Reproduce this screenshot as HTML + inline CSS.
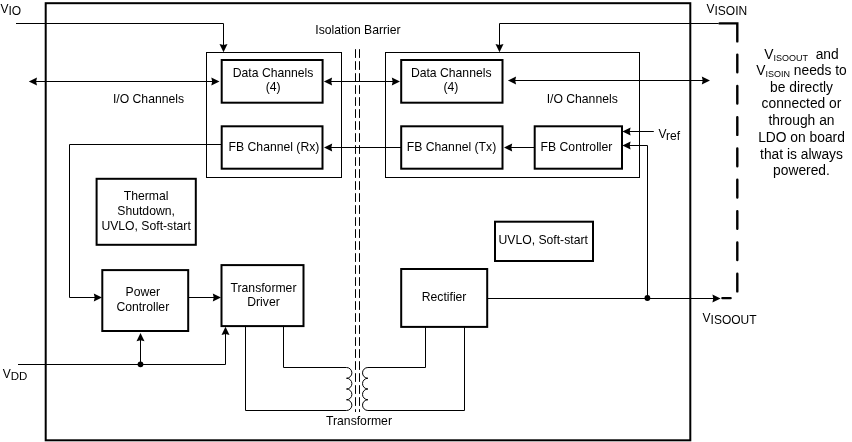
<!DOCTYPE html>
<html><head><meta charset="utf-8"><style>
html,body{margin:0;padding:0;background:#fff;width:852px;height:442px;overflow:hidden}
svg{display:block;will-change:transform}
text{font-family:"Liberation Sans",sans-serif;fill:#000}
</style></head><body>
<svg width="852" height="442" viewBox="0 0 852 442">
<rect x="45.7" y="3.2" width="644.60" height="437.10" fill="none" stroke="#000" stroke-width="2.0"/>
<text x="0.5" y="13" font-size="12" text-anchor="start">V<tspan font-size="12" dy="2.0">IO</tspan></text>
<path d="M16,23.5 H223.5 V46" fill="none" stroke="#000" stroke-width="1.0"/>
<polygon points="223.50,52.20 219.50,44.00 223.50,44.90 227.50,44.00" fill="#000"/>
<rect x="206.5" y="52.5" width="135.00" height="125.00" fill="none" stroke="#000" stroke-width="1.0"/>
<rect x="385.5" y="52.5" width="254.00" height="125.00" fill="none" stroke="#000" stroke-width="1.0"/>
<rect x="221.7" y="60.0" width="100.90" height="42.70" fill="none" stroke="#000" stroke-width="2.0"/>
<rect x="401.2" y="60.0" width="101.30" height="42.70" fill="none" stroke="#000" stroke-width="2.0"/>
<text x="273.1" y="76.7" font-size="12.2" text-anchor="middle">Data Channels</text>
<text x="273.2" y="91.2" font-size="12.2" text-anchor="middle">(4)</text>
<text x="451.2" y="76.7" font-size="12.2" text-anchor="middle">Data Channels</text>
<text x="450.9" y="91.2" font-size="12.2" text-anchor="middle">(4)</text>
<rect x="221.7" y="126.3" width="100.80" height="42.40" fill="none" stroke="#000" stroke-width="2.0"/>
<rect x="401.2" y="126.3" width="101.30" height="42.40" fill="none" stroke="#000" stroke-width="2.0"/>
<rect x="534.7" y="126.3" width="87.30" height="42.40" fill="none" stroke="#000" stroke-width="2.0"/>
<text x="274.0" y="151.0" font-size="12.2" text-anchor="middle">FB Channel (Rx)</text>
<text x="451.5" y="151.0" font-size="12.2" text-anchor="middle">FB Channel (Tx)</text>
<text x="576.5" y="151.4" font-size="12.2" text-anchor="middle">FB Controller</text>
<path d="M355.5,49.2 V412 M359.5,49.2 V412" fill="none" stroke="#000" stroke-width="1" stroke-dasharray="8.7 3.3"/>
<text x="358" y="33.6" font-size="12.2" text-anchor="middle">Isolation Barrier</text>
<path d="M34,81.5 H214" fill="none" stroke="#000" stroke-width="1.0"/>
<polygon points="28.80,81.50 37.00,77.50 36.10,81.50 37.00,85.50" fill="#000"/>
<polygon points="219.50,81.50 211.30,77.50 212.20,81.50 211.30,85.50" fill="#000"/>
<path d="M329,81.5 H395" fill="none" stroke="#000" stroke-width="1.0"/>
<polygon points="323.90,81.50 332.10,77.50 331.20,81.50 332.10,85.50" fill="#000"/>
<polygon points="400.00,81.50 391.80,77.50 392.70,81.50 391.80,85.50" fill="#000"/>
<path d="M513,80.5 H705" fill="none" stroke="#000" stroke-width="1.0"/>
<polygon points="507.90,80.50 516.10,76.50 515.20,80.50 516.10,84.50" fill="#000"/>
<polygon points="710.00,80.50 701.80,76.50 702.70,80.50 701.80,84.50" fill="#000"/>
<text x="148.5" y="102.5" font-size="12.2" text-anchor="middle">I/O Channels</text>
<text x="582.2" y="102.5" font-size="12.2" text-anchor="middle">I/O Channels</text>
<path d="M718.6,23.5 H499.5 V46" fill="none" stroke="#000" stroke-width="1.0"/>
<polygon points="499.50,52.20 495.50,44.00 499.50,44.90 503.50,44.00" fill="#000"/>
<text x="706.5" y="12.7" font-size="12" text-anchor="start">V<tspan font-size="12" dy="2.0">ISOIN</tspan></text>
<path d="M719.6,23.4 H737.3 V41.4" fill="none" stroke="#000" stroke-width="2.4" stroke-linecap="round"/>
<path d="M737.3,54.6 V292" fill="none" stroke="#000" stroke-width="2.4" stroke-linecap="round" stroke-dasharray="17.7 13.6"/>
<path d="M722.4,298.1 H730.6" fill="none" stroke="#000" stroke-width="2.4" stroke-linecap="round"/>
<path d="M653.8,131.5 H628" fill="none" stroke="#000" stroke-width="1.0"/>
<polygon points="622.40,131.50 630.60,127.50 629.70,131.50 630.60,135.50" fill="#000"/>
<text x="658.5" y="137.6" font-size="12" text-anchor="start">V<tspan font-size="12" dy="2.0">ref</tspan></text>
<path d="M647.5,298.5 V145.5 H628" fill="none" stroke="#000" stroke-width="1.0"/>
<polygon points="622.40,145.50 630.60,141.50 629.70,145.50 630.60,149.50" fill="#000"/>
<circle cx="647.4" cy="298" r="2.9" fill="#000"/>
<path d="M534.7,147.5 H510" fill="none" stroke="#000" stroke-width="1.0"/>
<polygon points="504.00,147.50 512.20,143.50 511.30,147.50 512.20,151.50" fill="#000"/>
<path d="M401.2,147.5 H330" fill="none" stroke="#000" stroke-width="1.0"/>
<polygon points="324.00,147.50 332.20,143.50 331.30,147.50 332.20,151.50" fill="#000"/>
<path d="M221.7,144.5 H69.5 V297.5 H96" fill="none" stroke="#000" stroke-width="1.0"/>
<polygon points="102.00,297.50 93.80,293.50 94.70,297.50 93.80,301.50" fill="#000"/>
<rect x="96.6" y="178.8" width="99.20" height="66.00" fill="none" stroke="#000" stroke-width="2.0"/>
<text x="146.1" y="200" font-size="12.2" text-anchor="middle">Thermal</text>
<text x="146.1" y="215" font-size="12.2" text-anchor="middle">Shutdown,</text>
<text x="146.1" y="230" font-size="12.2" text-anchor="middle">UVLO, Soft-start</text>
<rect x="102.3" y="270.1" width="85.90" height="60.90" fill="none" stroke="#000" stroke-width="2.0"/>
<text x="142.8" y="295.7" font-size="12.2" text-anchor="middle">Power</text>
<text x="142.8" y="310.5" font-size="12.2" text-anchor="middle">Controller</text>
<path d="M188.2,297.5 H215" fill="none" stroke="#000" stroke-width="1.0"/>
<polygon points="221.00,297.50 212.80,293.50 213.70,297.50 212.80,301.50" fill="#000"/>
<rect x="221.5" y="265.1" width="82.00" height="61.00" fill="none" stroke="#000" stroke-width="2.0"/>
<text x="263.5" y="292.1" font-size="12.2" text-anchor="middle">Transformer</text>
<text x="263.5" y="306.1" font-size="12.2" text-anchor="middle">Driver</text>
<text x="2.7" y="378" font-size="12">V<tspan font-size="11.5" dy="1.6">DD</tspan></text>
<path d="M18,364.5 H225.5 V333" fill="none" stroke="#000" stroke-width="1.0"/>
<polygon points="225.50,326.80 221.50,335.00 225.50,334.10 229.50,335.00" fill="#000"/>
<path d="M140.5,364.5 V339" fill="none" stroke="#000" stroke-width="1.0"/>
<polygon points="140.50,333.00 136.50,341.20 140.50,340.30 144.50,341.20" fill="#000"/>
<circle cx="140.5" cy="364.3" r="2.9" fill="#000"/>
<rect x="401.2" y="269.0" width="86.00" height="57.90" fill="none" stroke="#000" stroke-width="2.0"/>
<text x="444.1" y="301.1" font-size="12.2" text-anchor="middle">Rectifier</text>
<path d="M487,298.5 H714" fill="none" stroke="#000" stroke-width="1.0"/>
<polygon points="720.60,298.50 712.40,294.50 713.30,298.50 712.40,302.50" fill="#000"/>
<text x="702.6" y="321.6" font-size="12" text-anchor="start">V<tspan font-size="12" dy="2.0">ISOOUT</tspan></text>
<rect x="495" y="221.7" width="98.00" height="39.30" fill="none" stroke="#000" stroke-width="2.0"/>
<text x="543.2" y="244.3" font-size="12.2" text-anchor="middle">UVLO, Soft-start</text>
<path d="M283.5,325.8 V367.5 H346.5" fill="none" stroke="#000" stroke-width="1.0"/>
<path d="M245.5,325.8 V410.5 H346.5" fill="none" stroke="#000" stroke-width="1.0"/>
<path d="M425.5,326.5 V367.5 H367.9" fill="none" stroke="#000" stroke-width="1.0"/>
<path d="M464.5,326.5 V410.5 H367.9" fill="none" stroke="#000" stroke-width="1.0"/>
<path d="M346.5,367.5 A5.375,5.375 0 0 1 346.5,378.250 A5.375,5.375 0 0 1 346.5,389.000 A5.375,5.375 0 0 1 346.5,399.750 A5.375,5.375 0 0 1 346.5,410.500" fill="none" stroke="#000" stroke-width="1.0"/>
<path d="M367.9,367.5 A5.375,5.375 0 0 0 367.9,378.250 A5.375,5.375 0 0 0 367.9,389.000 A5.375,5.375 0 0 0 367.9,399.750 A5.375,5.375 0 0 0 367.9,410.500" fill="none" stroke="#000" stroke-width="1.0"/>
<text x="359" y="425" font-size="12.2" text-anchor="middle">Transformer</text>
<text x="801.5" y="58.70" font-size="13.8" text-anchor="middle" xml:space="preserve"><tspan>V<tspan font-size="9" dy="2">ISOOUT</tspan><tspan dy="-2">  and</tspan></tspan></text>
<text x="801.5" y="74.75" font-size="13.8" text-anchor="middle" xml:space="preserve">V<tspan font-size="9" dy="2">ISOIN</tspan><tspan dy="-2"> needs to</tspan></text>
<text x="801.5" y="91.50" font-size="13.8" text-anchor="middle" xml:space="preserve">be directly</text>
<text x="801.5" y="108.25" font-size="13.8" text-anchor="middle" xml:space="preserve">connected or</text>
<text x="801.5" y="125.00" font-size="13.8" text-anchor="middle" xml:space="preserve">through an</text>
<text x="801.5" y="141.75" font-size="13.8" text-anchor="middle" xml:space="preserve">LDO on board</text>
<text x="801.5" y="158.50" font-size="13.8" text-anchor="middle" xml:space="preserve">that is always</text>
<text x="801.5" y="175.25" font-size="13.8" text-anchor="middle" xml:space="preserve">powered.</text>
</svg>
</body></html>
